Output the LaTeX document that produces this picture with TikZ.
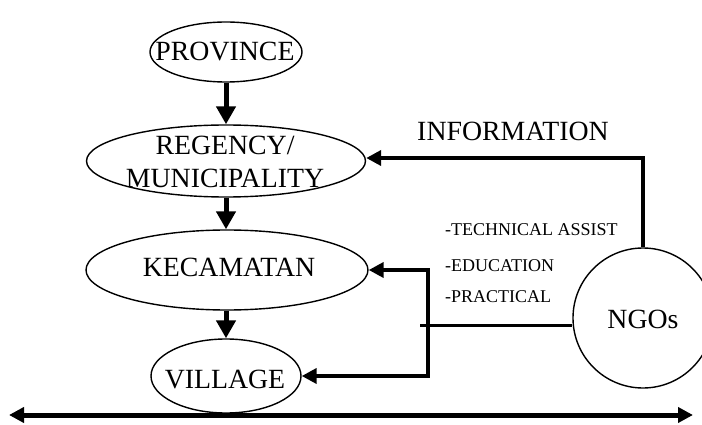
\documentclass[tikz,border=0pt]{standalone}
\usepackage{fontspec}
\setmainfont{Liberation Serif}
\usetikzlibrary{arrows.meta,shapes.geometric}
\tikzset{
  unit/.style={draw, ellipse, line width=1.4pt, inner sep=0pt},
  big/.style={font=\fontsize{27.8}{33}\selectfont, inner sep=0pt, align=center},
  small/.style={font=\fontsize{18}{21}\selectfont, inner sep=0pt, anchor=west},
  arrv/.style={line width=5pt, -{Triangle[length=18pt,width=19pt]}},
  arrh/.style={line width=4.5pt, line join=miter},
  tiph/.tip={Triangle[length=15pt,width=15pt]},
  thinline/.style={line width=3pt}
}
\begin{document}
\begin{tikzpicture}[x=1pt,y=-1pt]
\useasboundingbox (0,0) rectangle (702,425);
% ellipses
\node[unit, minimum width=152pt, minimum height=60pt] (prov) at (226,52) {};
\node[unit, minimum width=279pt, minimum height=72pt] (reg) at (226,161) {};
\node[unit, minimum width=282pt, minimum height=80pt] (kec) at (227,270) {};
\node[unit, minimum width=150pt, minimum height=74pt] (vil) at (226,376) {};
\node[draw, circle, line width=1.4pt, minimum size=140pt, inner sep=0pt] (ngo) at (643,318) {};
% texts
\node[big] (provt) at (225,52) {PROVINCE};
\node[big] (regt) at (225,162) {REGENCY/\\MUNICIPALITY};
\node[big] (kect) at (229,267) {KECAMATAN};
\node[big] (vilt) at (225,380) {VILLAGE};
\node[big] (ngot) at (643,319) {NGOs};
\node[big] (info) at (513,131) {INFORMATION};
\node[small] (ta) at (445,230) {-TECHNICAL ASSIST};
\node[small] (ed) at (445,266) {-EDUCATION};
\node[small] (pr) at (445,297) {-PRACTICAL};
% vertical arrows
\draw[arrv] (prov.south) -- (prov.south |- reg.north);
\draw[arrv] (reg.south) -- (reg.south |- kec.north);
\draw[arrv] (vil.north |- kec.south) -- (vil.north);
% information arrow
\draw[arrh, -tiph] (ngo.north) |- ([yshift=3pt]reg.east);
% NGO to kecamatan / village
\coordinate (bar) at (428,325);
\draw[arrh, tiph-tiph] (kec.east) -| (bar) |- (vil.east);
\draw[thinline] ([xshift=-8pt]bar) -- (ngo.west |- bar);
% bottom double arrow
\coordinate (bl) at (9,415);
\coordinate (br) at (693,415);
\draw[line width=5pt, {Triangle[length=15pt,width=15pt]}-{Triangle[length=15pt,width=15pt]}] (bl) -- (br);
\end{tikzpicture}
\end{document}
